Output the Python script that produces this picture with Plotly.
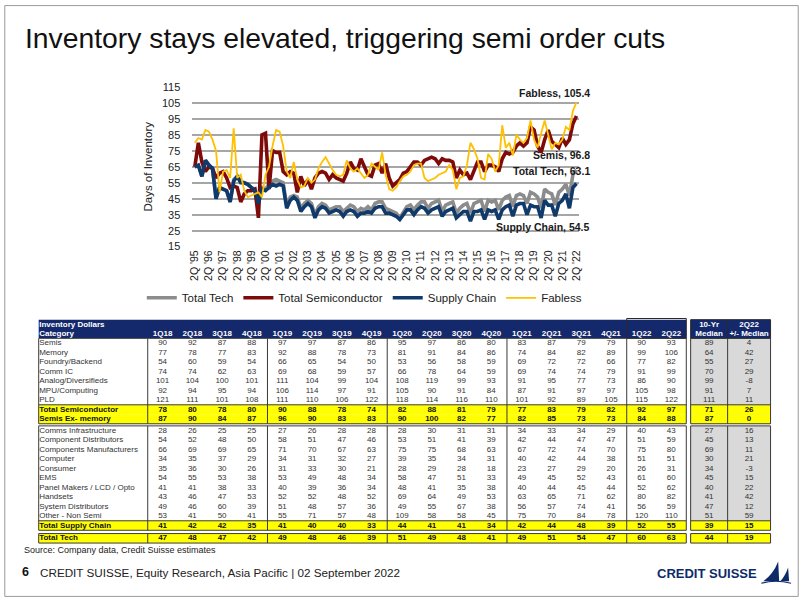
import plotly.graph_objects as go

W, H = 802, 602
FONT = "Liberation Sans, Arial, sans-serif"


def px(x):
    return x / W


def py(y):
    return 1 - y / H


# ---------------- chart data (days of inventory, 2Q95 .. 2Q22) ----------------
total_tech = [
    65, 66, 59, 69, 66, 64, 46, 52, 51, 50, 43, 57, 59, 56, 55, 54,
    52, 51, 43, 52, 51, 54, 56, 57, 56, 55, 41, 46, 47, 46, 39, 42,
    44, 42, 35, 40, 42, 41, 38, 39, 40, 40, 37, 39, 41, 40, 37, 39,
    38, 40, 38, 42, 43, 43, 39, 38, 37, 36, 33, 37, 40, 41, 38, 41,
    43, 43, 39, 42, 43, 44, 37, 41, 42, 43, 36, 39, 41, 42, 36, 42,
    43, 44, 37, 44, 43, 44, 38, 44, 46, 47, 40,
    47, 48, 47, 42, 49, 48, 46, 39, 51, 49, 48, 41, 49, 51, 54, 47, 60, 63.1,
]
semis = [
    65, 80, 68, 62, 65, 64, 58, 61, 62, 58, 52, 53, 52, 43, 48, 50,
    50, 51, 33, 85, 86, 51, 75, 74, 74, 62, 60, 62, 61, 49, 59, 53,
    57, 51, 58, 61, 62, 61, 57, 60, 58, 57, 56, 61, 68, 64, 63, 70,
    65, 60, 59, 66, 67, 61, 67, 58, 53, 55, 57, 61, 62, 65, 68, 68,
    66, 69, 70, 71, 70, 67, 70, 69, 69, 68, 58, 63, 60, 61, 57, 63,
    68, 68, 62, 66, 66, 65, 62, 70, 74, 73, 74,
    78, 80, 78, 80, 90, 88, 78, 74, 82, 88, 81, 79, 77, 83, 79, 82, 92, 96.8,
]
supply_chain = [
    65, 66, 59, 69, 66, 64, 45, 52, 51, 50, 43, 56, 59, 55, 55, 54,
    52, 50, 42, 51, 50, 52, 54, 53, 54, 53, 39, 44, 46, 44, 37, 40,
    42, 40, 33, 38, 40, 39, 36, 37, 38, 37, 34, 37, 38, 37, 34, 36,
    36, 37, 36, 39, 40, 40, 36, 36, 35, 34, 32, 35, 38, 38, 35, 38,
    40, 39, 36, 38, 39, 40, 34, 37, 38, 39, 33, 35, 37, 37, 31, 37,
    37, 38, 32, 38, 37, 38, 32, 38, 40, 41, 34,
    41, 42, 42, 35, 41, 40, 40, 33, 44, 41, 41, 34, 42, 44, 48, 39, 52, 54.5,
]
fabless = [
    80, 83, 82, 88, 87, 82, 75, 49, 62, 63, 58, 89, 58, 60, 50, 46,
    47, 48, 49, 46, 60, 65, 78, 88, 87, 78, 62, 58, 68, 57, 52, 53,
    58, 55, 57, 64, 68, 71, 67, 63, 60, 59, 60, 69, 64, 62, 64, 61,
    58, 60, 67, 65, 63, 74, 60, 51, 50, 52, 56, 59, 60, 62, 66, 67,
    67, 58, 56, 57, 58, 60, 61, 62, 66, 63, 51, 58, 59, 66, 80, 76,
    70, 58, 57, 73, 70, 62, 66, 91, 77, 80, 72,
    85, 82, 80, 83, 94, 82, 77, 86, 94, 85, 76, 80, 79, 82, 90, 88, 100, 105.4,
]
series_names = ["Total Tech", "Total Semiconductor", "Supply Chain", "Fabless"]
end_label_names = ["Total Tech", "Semis", "Supply Chain", "Fabless"]

# periods 2Q95 .. 2Q22
periods = []
for i in range(109):
    q = (i + 1) % 4 + 1
    yr = 1995 + (i + 1) // 4
    periods.append(f"{q}Q{str(yr)[2:]}")
tick_vals = [p for p in periods if p.startswith("2Q")]
tick_text = [f"2Q '{p[2:]}" for p in tick_vals]

for s in (total_tech, semis, supply_chain, fabless):
    assert len(s) == len(periods)

# ---------------- table data ----------------
quarters = ["1Q18", "2Q18", "3Q18", "4Q18", "1Q19", "2Q19", "3Q19", "4Q19",
            "1Q20", "2Q20", "3Q20", "4Q20", "1Q21", "2Q21", "3Q21", "4Q21",
            "1Q22", "2Q22"]
categories = ["Semis", "Memory", "Foundry/Backend", "Comm IC", "Analog/Diversifieds",
              "MPU/Computing", "PLD", "Total Semiconductor", "Semis Ex- memory",
              "Comms Infrastructure", "Component Distributors", "Components Manufacturers",
              "Computer", "Consumer", "EMS", "Panel Makers / LCD / Opto", "Handsets",
              "System Distributors", "Other - Non Semi", "Total Supply Chain", "Total Tech"]
inventory_days = [
    [90, 92, 87, 88, 97, 97, 87, 86, 95, 97, 86, 80, 83, 87, 79, 79, 90, 93],
    [77, 78, 77, 83, 92, 88, 78, 73, 81, 91, 84, 86, 74, 84, 82, 89, 99, 106],
    [54, 60, 59, 54, 66, 65, 54, 50, 53, 56, 58, 59, 69, 72, 72, 66, 77, 82],
    [74, 74, 62, 63, 69, 68, 59, 57, 66, 78, 64, 59, 69, 74, 74, 79, 91, 99],
    [101, 104, 100, 101, 111, 104, 99, 104, 108, 119, 99, 93, 91, 95, 77, 73, 86, 90],
    [92, 94, 95, 94, 106, 114, 97, 91, 105, 90, 91, 84, 87, 91, 97, 97, 105, 98],
    [121, 111, 101, 108, 111, 110, 106, 122, 118, 114, 116, 110, 101, 92, 89, 105, 115, 122],
    [78, 80, 78, 80, 90, 88, 78, 74, 82, 88, 81, 79, 77, 83, 79, 82, 92, 97],
    [87, 90, 84, 87, 96, 90, 83, 83, 90, 100, 82, 77, 82, 85, 73, 73, 84, 88],
    [28, 26, 25, 25, 27, 26, 28, 28, 28, 30, 31, 31, 34, 33, 34, 29, 40, 43],
    [54, 52, 48, 50, 58, 51, 47, 46, 53, 51, 41, 39, 42, 44, 47, 47, 51, 59],
    [66, 69, 69, 65, 71, 70, 67, 63, 75, 75, 68, 63, 67, 72, 74, 70, 75, 80],
    [34, 35, 37, 29, 34, 31, 32, 27, 39, 35, 34, 31, 40, 42, 44, 38, 51, 51],
    [35, 36, 30, 26, 31, 33, 30, 21, 28, 29, 28, 18, 23, 27, 29, 20, 26, 31],
    [54, 55, 53, 38, 53, 49, 48, 34, 58, 47, 51, 33, 49, 45, 52, 43, 61, 60],
    [41, 41, 38, 33, 40, 39, 36, 34, 48, 41, 35, 38, 40, 44, 45, 44, 52, 62],
    [43, 46, 47, 53, 52, 52, 48, 52, 69, 64, 49, 53, 63, 65, 71, 62, 80, 82],
    [49, 46, 60, 39, 51, 48, 57, 36, 49, 55, 67, 38, 56, 57, 74, 41, 56, 59],
    [53, 41, 50, 41, 55, 71, 57, 48, 109, 58, 58, 45, 75, 70, 84, 78, 120, 110],
    [41, 42, 42, 35, 41, 40, 40, 33, 44, 41, 41, 34, 42, 44, 48, 39, 52, 55],
    [47, 48, 47, 42, 49, 48, 46, 39, 51, 49, 48, 41, 49, 51, 54, 47, 60, 63],
]
median_10yr = [89, 64, 55, 70, 99, 91, 111, 71, 87, 27, 45, 69, 30, 34, 45, 40, 41, 47, 51, 39, 44]
vs_median = [4, 42, 27, 29, -8, 7, 11, 26, 0, 16, 13, 11, 21, -3, 15, 22, 42, 12, 59, 15, 19]
highlight_rows = ["Total Semiconductor", "Semis Ex- memory", "Total Supply Chain", "Total Tech"]
row_block = [0] * 9 + [1] * 11 + [2]

# ---------------- styles ----------------
COLORS = ["#8C8C8C", "#7F0A0A", "#0F3A6B", "#FFC000"]
WIDTHS = [3.6, 3.6, 3.6, 1.8]
NAVY = "#14286C"
YELLOW = "#FFFF00"
GRAYCELL = "#D9D9D9"
LINE = "#3A3A3A"

fig = go.Figure()

for name, vals, col, w in zip(series_names, [total_tech, semis, supply_chain, fabless], COLORS, WIDTHS):
    fig.add_trace(go.Scatter(x=periods, y=vals, mode="lines", name=name,
                             line=dict(color=col, width=w), hoverinfo="skip",
                             xaxis="x", yaxis="y"))

# end labels
end_vals = [total_tech[-1], semis[-1], supply_chain[-1], fabless[-1]]
end_shift = [-1.5, -38.8, -43.8, 9.0]
annotations = []
for nm, v, ys in zip(end_label_names, end_vals, end_shift):
    annotations.append(dict(x=periods[-1], y=v, xref="x", yref="y", text=f"<b>{nm}, {v}</b>",
                            showarrow=False, xanchor="right", yanchor="middle", xshift=16, yshift=ys,
                            font=dict(size=10.5, color="#1a1a1a", family=FONT)))

# ---------------- table geometry ----------------
TAB_L, CAT_R, MAIN_R = 35.0, 145.0, 688.3
MED_L, MED_MID, MED_R = 692.7, 730.0, 773.3
COLW, GRPW = 30.0, 120.8
PITCH = 9.65
HDR_TOP, HDR_MID, HDR_BOT = 320.0, 329.5, 339.0
block_tops = [339.0, 428.0, 537.5]

col_x = [CAT_R + GRPW * (k // 4) + COLW * (k % 4) + COLW / 2 for k in range(len(quarters))]
med_x = [(MED_L + MED_MID) / 2, (MED_MID + MED_R) / 2]

row_y = []
counts = {}
for b in row_block:
    r = counts.get(b, 0)
    row_y.append(block_tops[b] + PITCH * (r + 0.5))
    counts[b] = r + 1

shapes = []


def rect(x0, y0, x1, y1, fill=None, line=None, layer="below"):
    shapes.append(dict(type="rect", xref="x2", yref="y2", x0=x0, y0=y0, x1=x1, y1=y1,
                       fillcolor=fill if fill else "rgba(0,0,0,0)",
                       line=dict(color=line if line else "rgba(0,0,0,0)", width=1 if line else 0),
                       layer=layer))


def vline(x, y0, y1, color=LINE, width=1):
    shapes.append(dict(type="line", xref="x2", yref="y2", x0=x, x1=x, y0=y0, y1=y1,
                       line=dict(color=color, width=width), layer="above"))


def hline(y, x0, x1, color=LINE, width=1):
    shapes.append(dict(type="line", xref="x2", yref="y2", x0=x0, x1=x1, y0=y, y1=y,
                       line=dict(color=color, width=width), layer="above"))


# header
rect(TAB_L, HDR_TOP, MAIN_R, HDR_BOT, fill=NAVY)
rect(MED_L, HDR_TOP, MED_R, HDR_BOT, fill=NAVY)
rect(CAT_R + GRPW * 4, HDR_TOP - 1.2, MAIN_R, HDR_BOT, line="#2a2a2a", layer="above")
rect(MED_L, HDR_TOP, MED_R, HDR_BOT, line="#2a2a2a", layer="above")
vline(MED_MID, HDR_TOP, HDR_BOT, color="#2a2a2a")

# body blocks
for b, top in enumerate(block_tops):
    n = row_block.count(b)
    bot = top + PITCH * n
    rect(TAB_L, top, MAIN_R, bot, fill="white")
    rect(MED_L, top, MED_R, bot, fill=GRAYCELL)
    for r, nm in enumerate(categories):
        if row_block[r] == b and nm in highlight_rows:
            y0 = row_y[r] - PITCH / 2
            rect(TAB_L, y0, MAIN_R, y0 + PITCH, fill=YELLOW)
            rect(MED_L, y0, MED_R, y0 + PITCH, fill=YELLOW)
            first = row_y[r] - PITCH / 2 <= top + 0.1
            if not first:
                prev = categories[r - 1]
                if prev not in highlight_rows:
                    hline(y0, TAB_L, MAIN_R)
                    hline(y0, MED_L, MED_R)
    rect(TAB_L, top, MAIN_R, bot, line=LINE, layer="above")
    rect(MED_L, top, MED_R, bot, line=LINE, layer="above")
    vline(CAT_R, top, bot)
    for g in range(1, 5):
        vline(CAT_R + GRPW * g, top, bot)
    vline(MED_MID, top, bot)

# table text traces
name_t, name_y, name_c = [], [], []
for r, nm in enumerate(categories):
    hl = nm in highlight_rows
    name_t.append(f"<b>{nm}</b>" if hl else nm)
    name_y.append(row_y[r])
    name_c.append("#111111" if hl else "#333333")
fig.add_trace(go.Scatter(x=[TAB_L + 0.5] * len(categories), y=name_y, text=name_t, mode="text",
                         textposition="middle right", textfont=dict(size=8, color=name_c, family=FONT),
                         xaxis="x2", yaxis="y2", showlegend=False, hoverinfo="skip"))

num_x, num_y, num_t, num_c = [], [], [], []
for r, nm in enumerate(categories):
    hl = nm in highlight_rows
    vals = inventory_days[r] + [median_10yr[r], vs_median[r]]
    xs = col_x + med_x
    for x, v in zip(xs, vals):
        num_x.append(x)
        num_y.append(row_y[r])
        num_t.append(f"<b>{v}</b>" if hl else str(v))
        num_c.append("#111111" if hl else "#333333")
fig.add_trace(go.Scatter(x=num_x, y=num_y, text=num_t, mode="text", textposition="middle center",
                         textfont=dict(size=8, color=num_c, family=FONT),
                         xaxis="x2", yaxis="y2", showlegend=False, hoverinfo="skip"))

# header text
hy1 = (HDR_TOP + HDR_MID) / 2 + 0.3
hy2 = (HDR_MID + HDR_BOT) / 2 + 0.3
fig.add_trace(go.Scatter(x=[TAB_L + 0.5, TAB_L + 0.5], y=[hy1, hy2],
                         text=["<b>Inventory Dollars</b>", "<b>Category</b>"], mode="text",
                         textposition="middle right", textfont=dict(size=8, color="white", family=FONT),
                         xaxis="x2", yaxis="y2", showlegend=False, hoverinfo="skip"))
hdr_x = col_x + [med_x[0], med_x[0], med_x[1], med_x[1]]
hdr_y = [hy2] * len(quarters) + [hy1, hy2, hy1, hy2]
hdr_t = [f"<b>{q}</b>" for q in quarters] + ["<b>10-Yr</b>", "<b>Median</b>", "<b>2Q22</b>", "<b>+/- Median</b>"]
fig.add_trace(go.Scatter(x=hdr_x, y=hdr_y, text=hdr_t, mode="text", textposition="middle center",
                         textfont=dict(size=8, color="white", family=FONT),
                         xaxis="x2", yaxis="y2", showlegend=False, hoverinfo="skip"))

# ---------------- page decorations ----------------
annotations += [
    dict(x=px(19), y=py(34), xref="paper", yref="paper", xanchor="left", yanchor="middle",
         text="Inventory stays elevated, triggering semi order cuts", showarrow=False,
         font=dict(size=28.3, color="#111111", family=FONT)),
    dict(x=px(18), y=py(554), xref="paper", yref="paper", xanchor="left", yanchor="middle",
         text="Source: Company data, Credit Suisse estimates", showarrow=False,
         font=dict(size=9, color="#222222", family=FONT)),
    dict(x=px(16), y=py(577), xref="paper", yref="paper", xanchor="left", yanchor="middle",
         text="<b>6</b>", showarrow=False, font=dict(size=12.5, color="#111111", family=FONT)),
    dict(x=px(34), y=py(577), xref="paper", yref="paper", xanchor="left", yanchor="middle",
         text="CREDIT SUISSE, Equity Research, Asia Pacific | 02 September 2022", showarrow=False,
         font=dict(size=11.7, color="#222222", family=FONT)),
    dict(x=px(762), y=py(578), xref="paper", yref="paper", xanchor="right", yanchor="middle",
         text="<b>CREDIT SUISSE</b>", showarrow=False, font=dict(size=13, color="#0D2B6B", family=FONT)),
]

# sail logo
shapes.append(dict(type="path", xref="x2", yref="y2", layer="above",
                   path="M 766 586 Q 776 579 781 566 L 782 586 Z",
                   fillcolor="#0D2B6B", line=dict(width=0)))
shapes.append(dict(type="path", xref="x2", yref="y2", layer="above",
                   path="M 783 586 Q 788 581 791 572 L 792 586 Z",
                   fillcolor="#0D2B6B", line=dict(width=0)))
shapes.append(dict(type="path", xref="x2", yref="y2", layer="above",
                   path="M 764 588 Q 778 584 794 588",
                   line=dict(width=1.2, color="#0D2B6B")))
# slide frame
shapes.append(dict(type="rect", xref="paper", yref="paper", x0=0.001, y0=0.001, x1=0.999, y1=0.999,
                   line=dict(color="#9A9A9A", width=1), fillcolor="rgba(0,0,0,0)", layer="above"))

y_top_px, y_bot_px = 82.65, 246.35
fig.update_layout(
    width=W, height=H, margin=dict(l=0, r=0, t=0, b=0),
    paper_bgcolor="white", plot_bgcolor="rgba(0,0,0,0)",
    font=dict(family=FONT, color="#1a1a1a"),
    showlegend=True,
    legend=dict(orientation="h", x=px(139), y=py(283), xanchor="left", yanchor="top",
                font=dict(size=11.5, color="#1a1a1a", family=FONT), bgcolor="rgba(0,0,0,0)",
                itemwidth=30, tracegroupgap=0),
    xaxis=dict(domain=[px(190), px(580)], range=[-0.7, 108.7], type="category",
               tickmode="array", tickvals=tick_vals, ticktext=tick_text, tickangle=-90,
               tickfont=dict(size=10.5, color="#222222"), showgrid=False, showline=False,
               zeroline=False, ticks="", anchor="y", fixedrange=True),
    yaxis=dict(domain=[py(y_bot_px), py(y_top_px)], range=[14.6, 115.4], tickmode="linear",
               tick0=15, dtick=10, showgrid=True, gridcolor="#A6A6A6", gridwidth=1.5,
               zeroline=False, showline=False, ticks="", tickfont=dict(size=11, color="#222222"),
               ticklabelstandoff=11,
               title=dict(text="Days of Inventory", font=dict(size=11.5, color="#222222"), standoff=6),
               anchor="x", fixedrange=True),
    xaxis2=dict(domain=[0, 1], range=[0, W], visible=False, anchor="y2", fixedrange=True),
    yaxis2=dict(domain=[0, 1], range=[H, 0], visible=False, anchor="x2", fixedrange=True),
    shapes=shapes,
    annotations=annotations,
)

fig.write_html("out.html", include_plotlyjs=True, full_html=True,
               config={"displayModeBar": False},
               post_script="document.body.style.margin='0';")
